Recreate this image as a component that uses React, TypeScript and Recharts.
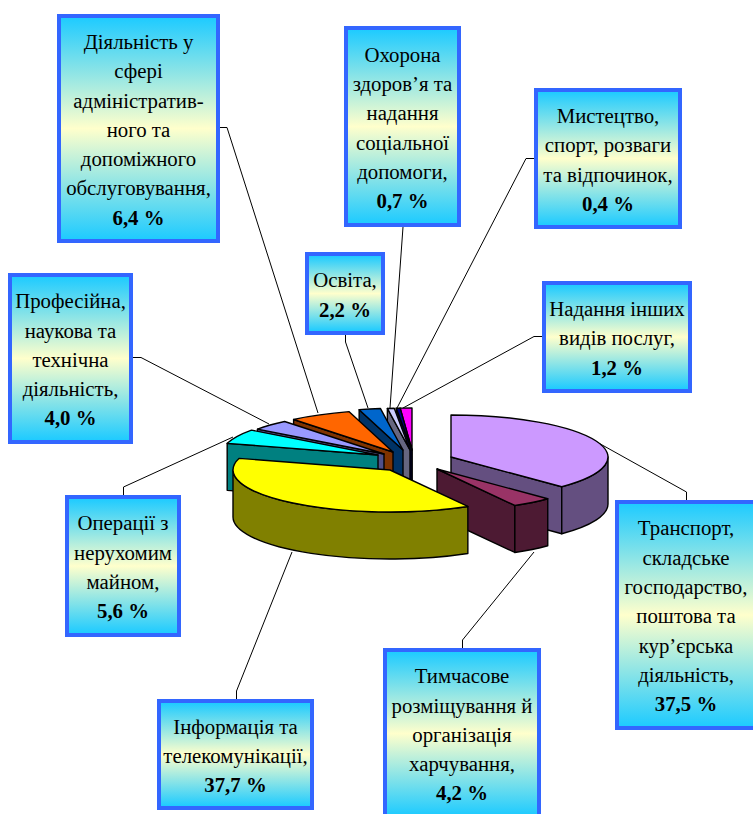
import { PieChart, Pie } from 'recharts'

const sectors = [
  'Транспорт, складське господарство, поштова та кур’єрська діяльність',
  'Тимчасове розміщування й організація харчування',
  'Інформація та телекомунікації',
  'Операції з нерухомим майном',
  'Професійна, наукова та технічна діяльність',
  'Діяльність у сфері адміністративного та допоміжного обслуговування',
  'Освіта',
  'Охорона здоров’я та надання соціальної допомоги',
  'Мистецтво, спорт, розваги та відпочинок',
  'Надання інших видів послуг',
]
const shares = [37.5, 4.2, 37.7, 5.6, 4.0, 6.4, 2.2, 0.7, 0.4, 1.2]

// how the text wraps inside each callout
const labelLines = [
  ['Транспорт,', 'складське', 'господарство,', 'поштова та', 'кур’єрська', 'діяльність,'],
  ['Тимчасове', 'розміщування й', 'організація', 'харчування,'],
  ['Інформація та', 'телекомунікації,'],
  ['Операції з', 'нерухомим', 'майном,'],
  ['Професійна,', 'наукова та', 'технічна', 'діяльність,'],
  ['Діяльність у', 'сфері', 'адміністратив-', 'ного та', 'допоміжного', 'обслуговування,'],
  ['Освіта,'],
  ['Охорона', 'здоров’я та', 'надання', 'соціальної', 'допомоги,'],
  ['Мистецтво,', 'спорт, розваги', 'та відпочинок,'],
  ['Надання інших', 'видів послуг,'],
]

const topColors = ['#cc99ff', '#993366', '#ffff00', '#00ffff', '#9999ff', '#ff6600', '#0066cc', '#ccccff', '#000080', '#ff00ff']
const sideColors = ['#644f80', '#4d1a33', '#808000', '#008080', '#50508a', '#803300', '#003366', '#666680', '#000040', '#800080']

// each slice is pulled away from the pie centre by this much (dx, dy)
const explode = [[39, 7], [25, 19], [-22, 20], [-34, 5], [-28, 4], [-19, 2], [-9, 0], [-2, 0], [0, 0], [0, 0]]

// callout boxes: left, top, width, height
const boxes = [
  [615, 500, 142, 230],
  [383, 648, 158, 171],
  [157, 699, 157, 111],
  [65, 495, 116, 142],
  [8, 273, 125, 171],
  [57, 14, 163, 229],
  [305, 252, 80, 83],
  [344, 26, 117, 201],
  [534, 88, 148, 141],
  [542, 281, 150, 112],
]

const leaders = [
  '686.5,500 686.5,492 595,441',
  '462.5,648 462.5,640 534,552',
  '236.5,699 236.5,691 292,552',
  '123.5,495 123.5,487 233,437',
  '133,357.5 141,357.5 269,424',
  '220,127.5 227,127.5 318,413',
  '345.5,335 345.5,342 368,408',
  '403,227 390,408',
  '534,158.5 526,158.5 397,408',
  '542,336.5 534,336.5 403,408',
]

const chartData = sectors.map((name, i) => ({ name, value: shares[i], idx: i }))
const backData = [...chartData].reverse()
const FRONT = [0, 1, 2]

const TILT = 42 / 157
const DEPTH = 47

function makeSlice(layerHas: (i: number) => boolean) {
  return function Slice(props: any) {
    const i = props.idx ?? props.payload?.idx
    if (!layerHas(i)) return <g />
    const rx = props.outerRadius
    const ry = rx * TILT
    const cx = props.cx + explode[i][0]
    const cy = props.cy + explode[i][1]
    // library angles -> clockwise from 12 o'clock
    let a = Math.min(90 - props.startAngle, 90 - props.endAngle)
    let b = Math.max(90 - props.startAngle, 90 - props.endAngle)
    if (a < 0) {
      a += 360
      b += 360
    }
    const pt = (deg: number, dy = 0) => {
      const r = (deg * Math.PI) / 180
      return [cx + rx * Math.sin(r), cy - ry * Math.cos(r) + dy]
    }
    const wall = (deg: number) => {
      const p = pt(deg)
      return `M${cx},${cy} L${p[0]},${p[1]} L${p[0]},${p[1] + DEPTH} L${cx},${cy + DEPTH} Z`
    }
    const faces: string[] = []
    // radial walls that look towards the viewer
    if (a > 180) faces.push(wall(a))
    if (b < 180) faces.push(wall(b))
    // rim, only the near half of the ellipse
    const from = Math.max(a, 90)
    const to = Math.min(b, 270)
    if (to > from) {
      const p = pt(from)
      const q = pt(to)
      faces.push(
        `M${p[0]},${p[1]} A${rx},${ry} 0 0 1 ${q[0]},${q[1]} L${q[0]},${q[1] + DEPTH} A${rx},${ry} 0 0 0 ${p[0]},${p[1] + DEPTH} Z`
      )
    }
    const s = pt(a)
    const e = pt(b)
    const large = b - a > 180 ? 1 : 0
    return (
      <g stroke="#000" strokeWidth={1.4} strokeLinejoin="round">
        {faces.map((d, k) => (
          <path key={k} d={d} fill={sideColors[i]} />
        ))}
        <path
          d={`M${cx},${cy} L${s[0]},${s[1]} A${rx},${ry} 0 ${large} 1 ${e[0]},${e[1]} Z`}
          fill={topColors[i]}
        />
      </g>
    )
  }
}

const BackSlice = makeSlice((i) => !FRONT.includes(i))
const FrontSlice = makeSlice((i) => FRONT.includes(i))

export default function App() {
  return (
    <div style={{ position: 'absolute', left: 0, top: 0, width: 753, height: 814, overflow: 'hidden', background: '#fff' }}>
      <svg width={753} height={814} style={{ position: 'absolute', left: 0, top: 0 }}>
        {leaders.map((p, i) => (
          <polyline key={i} points={p} fill="none" stroke="#000" strokeWidth={1} />
        ))}
      </svg>

      <div style={{ position: 'absolute', left: 0, top: 0 }}>
        <PieChart width={753} height={814} margin={{ top: 0, right: 0, bottom: 0, left: 0 }}>
          {/* far slices go first, walking counter-clockwise from 12 o'clock */}
          <Pie
            data={backData}
            dataKey="value"
            nameKey="name"
            cx={412}
            cy={450}
            outerRadius={157}
            startAngle={90}
            endAngle={450}
            stroke="none"
            shape={BackSlice}
            isAnimationActive={false}
          />
          <Pie
            data={chartData}
            dataKey="value"
            nameKey="name"
            cx={412}
            cy={450}
            outerRadius={157}
            startAngle={90}
            endAngle={-270}
            stroke="none"
            shape={FrontSlice}
            isAnimationActive={false}
          />
        </PieChart>
      </div>

      {sectors.map((name, i) => {
        const [left, top, width, height] = boxes[i]
        return (
          <div
            key={name}
            style={{
              position: 'absolute',
              left,
              top,
              width,
              height,
              boxSizing: 'border-box',
              border: '4px solid #3366ff',
              paddingTop: 2,
              background: 'linear-gradient(#1fcbff 0%, #ffffcc 50%, #1fcbff 100%)',
              display: 'flex',
              flexDirection: 'column',
              alignItems: 'center',
              justifyContent: 'center',
              fontFamily: '"Liberation Serif", serif',
              fontSize: 20.8,
              lineHeight: '29.3px',
              color: '#000',
              whiteSpace: 'nowrap',
            }}
          >
            {labelLines[i].map((line) => (
              <div key={line}>{line}</div>
            ))}
            <div style={{ fontWeight: 'bold' }}>{shares[i].toFixed(1).replace('.', ',')} %</div>
          </div>
        )
      })}
    </div>
  )
}
